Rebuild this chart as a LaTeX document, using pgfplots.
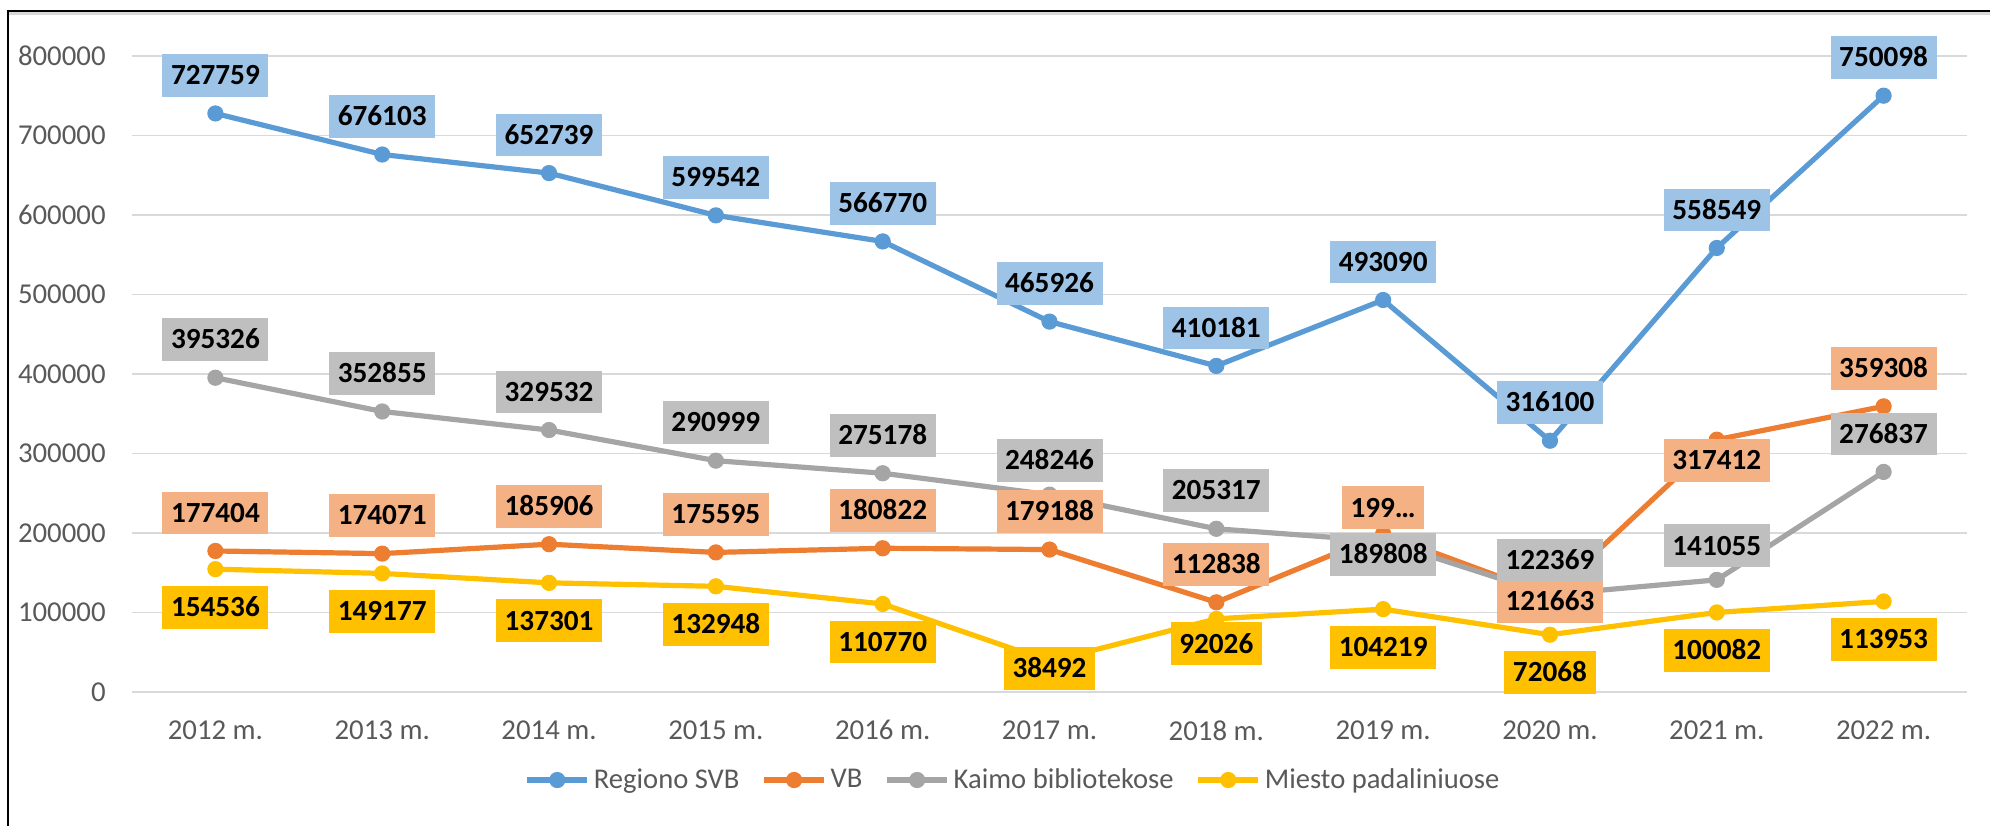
\documentclass[border=0pt]{standalone}
\usepackage{fontspec}
\setmainfont{Carlito}
\usepackage{pgfplots}
\usepackage{pgfplotstable}
\pgfplotsset{compat=1.18}
\definecolor{cBlue}{HTML}{5B9BD5}
\definecolor{cOrange}{HTML}{ED7D31}
\definecolor{cGrey}{HTML}{A5A5A5}
\definecolor{cYellow}{HTML}{FFC000}
\definecolor{lBlue}{HTML}{9DC3E6}
\definecolor{lOrange}{HTML}{F4B183}
\definecolor{lGrey}{HTML}{BFBFBF}
\definecolor{lYellow}{HTML}{FFC000}
\definecolor{gridc}{HTML}{D9D9D9}
\definecolor{tickc}{HTML}{595959}

\pgfplotstableread{
x y lab dy
0 727759 727759 19
1 676103 676103 19
2 652739 652739 19
3 599542 599542 19
4 566770 566770 19
5 465926 465926 19
6 410181 410181 19
7 493090 493090 19
8 316100 316100 19
9 558549 558549 19
10 750098 750098 19
}\tblue

\pgfplotstableread{
x y lab dy
0 177404 177404 19
1 174071 174071 19
2 185906 185906 19
3 175595 175595 19
4 180822 180822 19
5 179188 179188 19
6 112838 112838 19
7 199000 199… 13
8 121663 121663 -3
9 317412 317412 -10.5
10 359308 359308 19
}\torange

\pgfplotstableread{
x y lab dy
0 395326 395326 19
1 352855 352855 19
2 329532 329532 19
3 290999 290999 19
4 275178 275178 19
5 248246 248246 17
6 205317 205317 19
7 189808 189808 -6.5
8 122369 122369 17
9 141055 141055 17
10 276837 276837 19
}\tgrey

\pgfplotstableread{
x y lab dy
0 154536 154536 -19
1 149177 149177 -19
2 137301 137301 -19
3 132948 132948 -19
4 110770 110770 -19
5 38492 38492 -3.5
6 92026 92026 -12.5
7 104219 104219 -19
8 72068 72068 -19
9 100082 100082 -19
10 113953 113953 -19
}\tyellow

\pgfplotsset{
  ser/.style={#1, line width=2.6pt, line join=round, mark=*, mark size=3.8pt,
    mark options={solid, fill=#1, line width=0.5pt}},
  lab/.style={draw=none, mark=none, forget plot, nodes near coords,
    point meta=explicit symbolic,
    visualization depends on={\thisrow{dy} \as \labdy},
    every node near coord/.append style={anchor=center, yshift=\labdy pt,
      fill=#1, text=black, font=\bfseries\fontsize{14.6}{17}\selectfont,
      inner xsep=4.3pt, inner ysep=6.1pt, text height=9.2pt, text depth=0pt}},
}

\begin{document}
\begin{tikzpicture}
\useasboundingbox (-66pt,-67pt) rectangle (929pt,346pt);
\fill[gridc] (-62pt,338.5pt) rectangle (929pt,340pt);
\draw[black, line width=1pt] (-62.5pt,340.5pt) -- (929pt,340.5pt);
\draw[black, line width=1pt] (-62pt,341pt) -- (-62pt,-67pt);
\begin{axis}[
  width=917.5pt, height=318pt, scale only axis,
  xmin=-0.5, xmax=10.5, ymin=0, ymax=800000,
  clip=false,
  axis line style={draw=none},
  major tick length=0pt,
  ymajorgrids, grid style={gridc, line width=0.75pt},
  ytick={0,100000,...,800000},
  scaled y ticks=false,
  xtick={0,...,10},
  xticklabels={2012 m.,2013 m.,2014 m.,2015 m.,2016 m.,2017 m.,2018 m.,2019 m.,2020 m.,2021 m.,2022 m.},
  tick label style={font=\fontsize{14.4}{17}\selectfont, text=tickc},
  yticklabel style={/pgf/number format/fixed, /pgf/number format/1000 sep={},
    /pgf/number format/assume math mode=true, anchor=east, inner sep=0pt, xshift=-13pt},
  xticklabel style={anchor=north, inner sep=0pt, yshift=-14pt},
  legend style={at={(0.4807,-0.1384)}, anchor=center, draw=none, fill=none,
    legend columns=4, font=\fontsize{14.3}{17}\selectfont,
    nodes={text=tickc},
    /tikz/every even column/.append style={column sep=9pt}},
  legend image code/.code={\draw[mark repeat=2, mark phase=2, #1] plot coordinates {(0pt,0pt) (15pt,0pt) (30pt,0pt)};},
]
\addplot[ser=cBlue] table[x=x,y=y] {\tblue};
\addlegendentry{Regiono SVB}
\addplot[ser=cOrange] table[x=x,y=y] {\torange};
\addlegendentry{VB}
\addplot[ser=cGrey] table[x=x,y=y] {\tgrey};
\addlegendentry{Kaimo bibliotekose}
\addplot[ser=cYellow] table[x=x,y=y] {\tyellow};
\addlegendentry{Miesto padaliniuose}

\addplot[lab=lBlue] table[x=x,y=y,meta=lab] {\tblue};
\addplot[lab=lOrange] table[x=x,y=y,meta=lab] {\torange};
\addplot[lab=lGrey] table[x=x,y=y,meta=lab] {\tgrey};
\addplot[lab=lYellow] table[x=x,y=y,meta=lab] {\tyellow};
\end{axis}
\end{tikzpicture}
\end{document}
